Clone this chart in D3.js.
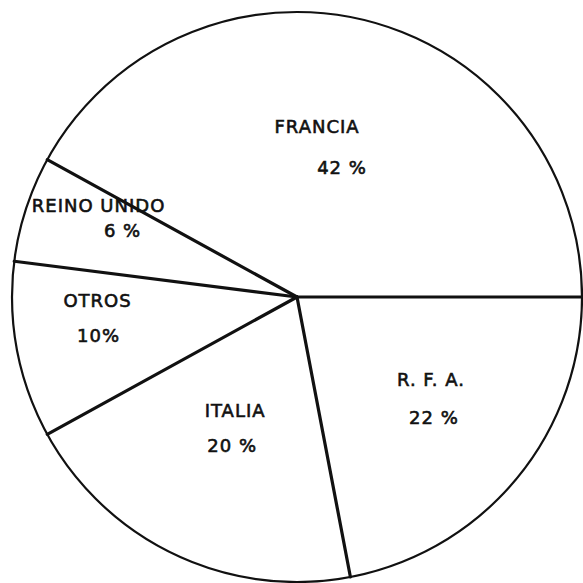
<!DOCTYPE html>
<html>
<head>
<meta charset="utf-8">
<script src="https://cdn.jsdelivr.net/npm/d3@7"></script>
<style>
    html, body { margin: 0; padding: 0; background: #fff; }
    svg { display: block; }
    .label { font-family: "DejaVu Sans", sans-serif; font-size: 18px; fill: #111; stroke: #111; stroke-width: 0.6px; letter-spacing: 1px; }
</style>
</head>
<body>
<svg id="chart" width="583" height="583"></svg>
<script>
// chart data
const countries = ["FRANCIA", "REINO UNIDO", "OTROS", "ITALIA", "R. F. A."];
const shares = [42, 6, 10, 20, 22];
const shareLabels = ["42 %", "6 %", "10%", "20 %", "22 %"];

// label layout: radius of the anchor point, then nudges for name / percent
const labelRadius = [153, 195, 200, 150, 170];
const nameNudge = [[-18, -16], [-13, -25], [-3, -27], [2, -16], [3, -19]];
const pctNudge = [[7, 25], [11, 0], [-2, 8], [-1, 19], [6, 19]];

const SIZE = 583;
const cx = 297, cy = 297, radius = 285;

const svg = d3.select("#chart");
const g = svg.append("g").attr("transform", `translate(${cx},${cy})`);

// slices go counter-clockwise starting at 3 o'clock
const pie = d3.pie()
    .sort(null)
    .value(d => d)
    .startAngle(Math.PI / 2)
    .endAngle(Math.PI / 2 - 2 * Math.PI);

const arcs = pie(shares);
const arc = d3.arc().innerRadius(0).outerRadius(radius);

g.selectAll("path.slice")
    .data(arcs)
    .enter().append("path")
    .attr("class", "slice")
    .attr("d", arc)
    .attr("fill", "#fff");

// outer rim
g.append("circle")
    .attr("r", radius)
    .attr("fill", "none")
    .attr("stroke", "#111")
    .attr("stroke-width", 2.2);

// spokes at every slice boundary
g.selectAll("line.spoke")
    .data(arcs)
    .enter().append("line")
    .attr("class", "spoke")
    .attr("x1", 0).attr("y1", 0)
    .attr("x2", d => radius * Math.sin(d.startAngle))
    .attr("y2", d => -radius * Math.cos(d.startAngle))
    .attr("stroke", "#111")
    .attr("stroke-width", 3.2)
    .attr("stroke-linecap", "round");

// labels
arcs.forEach((d, i) => {
    let mid = (d.startAngle + d.endAngle) / 2;
    let ax = labelRadius[i] * Math.sin(mid);
    let ay = -labelRadius[i] * Math.cos(mid);
    g.append("text")
        .attr("class", "label")
        .attr("text-anchor", "middle")
        .attr("x", ax + nameNudge[i][0])
        .attr("y", ay + nameNudge[i][1])
        .text(countries[i]);
    g.append("text")
        .attr("class", "label")
        .attr("text-anchor", "middle")
        .attr("x", ax + pctNudge[i][0])
        .attr("y", ay + pctNudge[i][1])
        .text(shareLabels[i]);
});
</script>
</body>
</html>
